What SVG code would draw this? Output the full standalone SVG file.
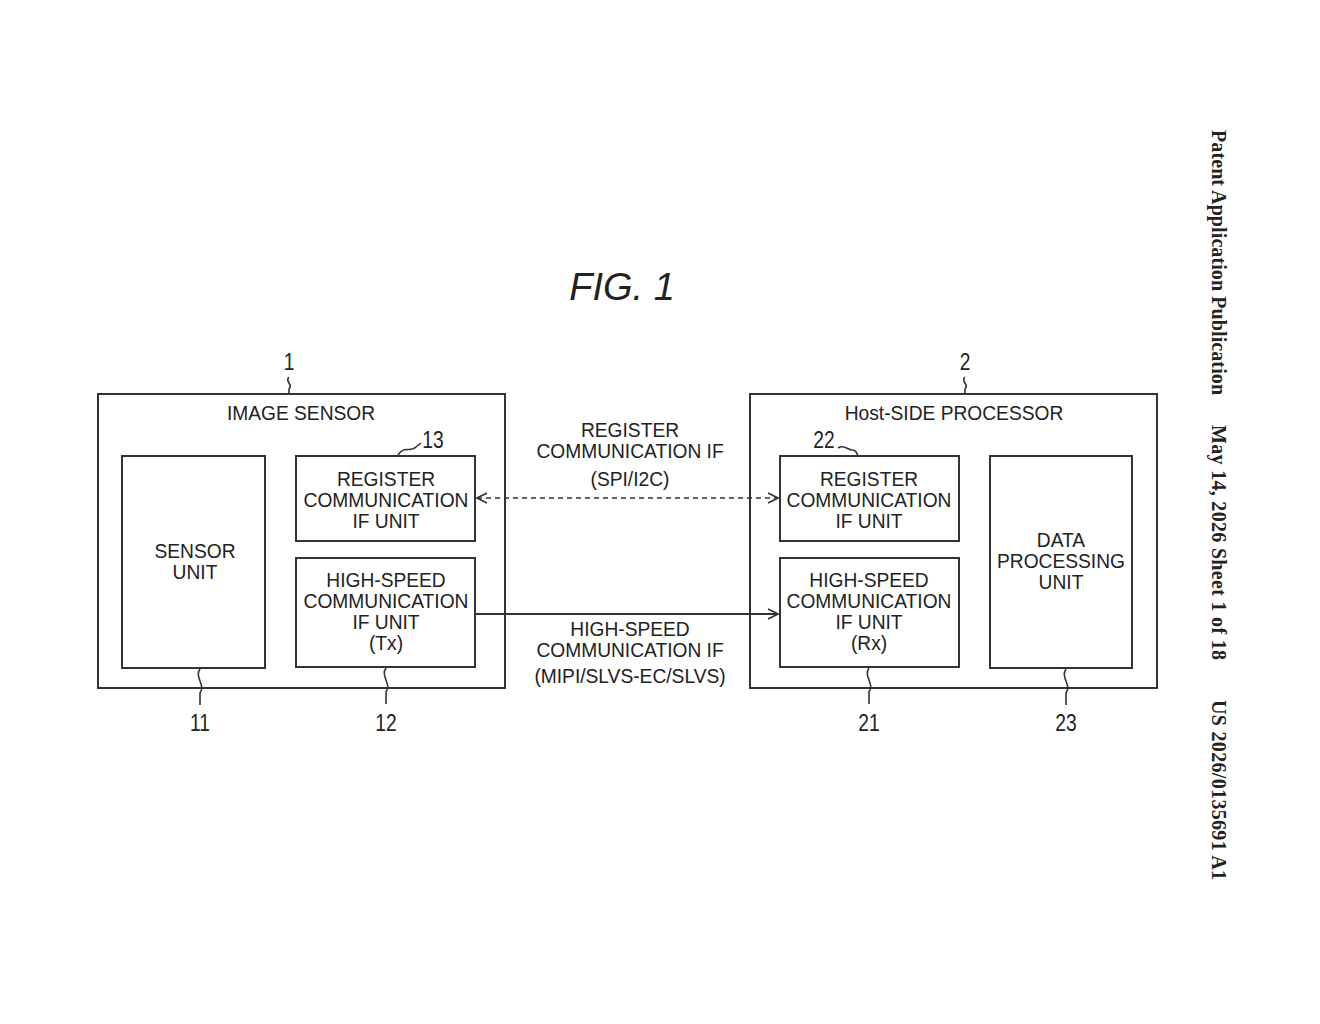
<svg xmlns="http://www.w3.org/2000/svg" width="1320" height="1024" viewBox="0 0 1320 1024">
<style>
.b{fill:none;stroke:#333;stroke-width:2}
.t{font-family:"Liberation Sans",Arial,sans-serif;font-size:20px;fill:#222;text-anchor:middle}
.n{font-family:"Liberation Sans",Arial,sans-serif;font-size:24px;fill:#222;text-anchor:middle}
.l{fill:none;stroke:#333;stroke-width:1.6}
.v{font-family:"Liberation Serif","Times New Roman",serif;font-weight:bold;font-size:20px;fill:#222}
</style>
<defs>
<marker id="a" viewBox="0 0 12 12" refX="11" refY="6" markerWidth="12" markerHeight="12" markerUnits="userSpaceOnUse" orient="auto-start-reverse">
<path d="M1,1 L11,6 L1,11" fill="none" stroke="#333" stroke-width="1.6"/>
</marker>
</defs>
<rect width="1320" height="1024" fill="#fff"/>
<text x="622" y="300" font-family="Liberation Sans,Arial,sans-serif" font-style="italic" font-size="38" text-anchor="middle" fill="#222">FIG. 1</text>

<g id="n1">
<rect class="b" x="98" y="394" width="407" height="294"/>
<text class="t" transform="translate(301,420) scale(0.96,1)">IMAGE SENSOR</text>
<text class="n" transform="translate(289,370) scale(0.8,1)">1</text>
<path class="l" d="M289,377 c-5,4 5,8 0,12 l0,5"/>
</g>
<g id="n2">
<rect class="b" x="750" y="394" width="407" height="294"/>
<text class="t" transform="translate(954,420) scale(0.96,1)">Host-SIDE PROCESSOR</text>
<text class="n" transform="translate(965,370) scale(0.8,1)">2</text>
<path class="l" d="M965,377 c-5,4 5,8 0,12 l0,5"/>
</g>
<g id="n11">
<rect class="b" x="122" y="456" width="143" height="212"/>
<text class="t" transform="translate(195,558) scale(0.96,1)">SENSOR</text>
<text class="t" transform="translate(195,579) scale(0.96,1)">UNIT</text>
<path class="l" d="M200,669 c-6,8 6,16 0,24 l0,12"/>
<text class="n" transform="translate(200,731) scale(0.8,1)">11</text>
</g>
<g id="n13">
<rect class="b" x="296" y="456" width="179" height="85"/>
<text class="t" transform="translate(386,486) scale(0.96,1)">REGISTER</text>
<text class="t" transform="translate(386,507) scale(0.96,1)">COMMUNICATION</text>
<text class="t" transform="translate(386,528) scale(0.96,1)">IF UNIT</text>
<path class="l" d="M398,455 c6,-10 12,-2 18,-8 l5,-4"/>
<text class="n" transform="translate(433,448) scale(0.8,1)">13</text>
</g>
<g id="n12">
<rect class="b" x="296" y="558" width="179" height="109"/>
<text class="t" transform="translate(386,587) scale(0.96,1)">HIGH-SPEED</text>
<text class="t" transform="translate(386,608) scale(0.96,1)">COMMUNICATION</text>
<text class="t" transform="translate(386,629) scale(0.96,1)">IF UNIT</text>
<text class="t" transform="translate(386,650) scale(0.96,1)">(Tx)</text>
<path class="l" d="M386,668 c-6,8 6,16 0,24 l0,12"/>
<text class="n" transform="translate(386,731) scale(0.8,1)">12</text>
</g>
<g id="n22">
<rect class="b" x="780" y="456" width="179" height="85"/>
<text class="t" transform="translate(869,486) scale(0.96,1)">REGISTER</text>
<text class="t" transform="translate(869,507) scale(0.96,1)">COMMUNICATION</text>
<text class="t" transform="translate(869,528) scale(0.96,1)">IF UNIT</text>
<text class="n" transform="translate(824,448) scale(0.8,1)">22</text>
<path class="l" d="M838,448 c6,-4 10,2 14,2 c4,0 5,3 6,6"/>
</g>
<g id="n21">
<rect class="b" x="780" y="558" width="179" height="109"/>
<text class="t" transform="translate(869,587) scale(0.96,1)">HIGH-SPEED</text>
<text class="t" transform="translate(869,608) scale(0.96,1)">COMMUNICATION</text>
<text class="t" transform="translate(869,629) scale(0.96,1)">IF UNIT</text>
<text class="t" transform="translate(869,650) scale(0.96,1)">(Rx)</text>
<path class="l" d="M869,668 c-6,8 6,16 0,24 l0,12"/>
<text class="n" transform="translate(869,731) scale(0.8,1)">21</text>
</g>
<g id="n23">
<rect class="b" x="990" y="456" width="142" height="212"/>
<text class="t" transform="translate(1061,547) scale(0.96,1)">DATA</text>
<text class="t" transform="translate(1061,568) scale(0.96,1)">PROCESSING</text>
<text class="t" transform="translate(1061,589) scale(0.96,1)">UNIT</text>
<path class="l" d="M1066,669 c-6,8 6,16 0,24 l0,12"/>
<text class="n" transform="translate(1066,731) scale(0.8,1)">23</text>
</g>
<g id="connectors">
<line x1="477" y1="498" x2="778" y2="498" stroke="#333" stroke-width="1.6" stroke-dasharray="5,4" marker-start="url(#a)" marker-end="url(#a)"/>
<line x1="475" y1="614" x2="778" y2="614" stroke="#333" stroke-width="1.8" marker-end="url(#a)"/>
<text class="t" transform="translate(630,437) scale(0.96,1)">REGISTER</text>
<text class="t" transform="translate(630,458) scale(0.96,1)">COMMUNICATION IF</text>
<text class="t" transform="translate(630,486) scale(0.96,1)">(SPI/I2C)</text>
<text class="t" transform="translate(630,636) scale(0.96,1)">HIGH-SPEED</text>
<text class="t" transform="translate(630,657) scale(0.96,1)">COMMUNICATION IF</text>
<text class="t" transform="translate(630,683) scale(0.96,1)">(MIPI/SLVS-EC/SLVS)</text>
</g>
<g transform="translate(1212,130) rotate(90)">
<text class="v" x="0" y="0" textLength="265">Patent Application Publication</text>
<text class="v" x="295" y="0" textLength="235">May 14, 2026  Sheet 1 of 18</text>
<text class="v" x="570" y="0" textLength="180">US 2026/0135691 A1</text>
</g>
</svg>
